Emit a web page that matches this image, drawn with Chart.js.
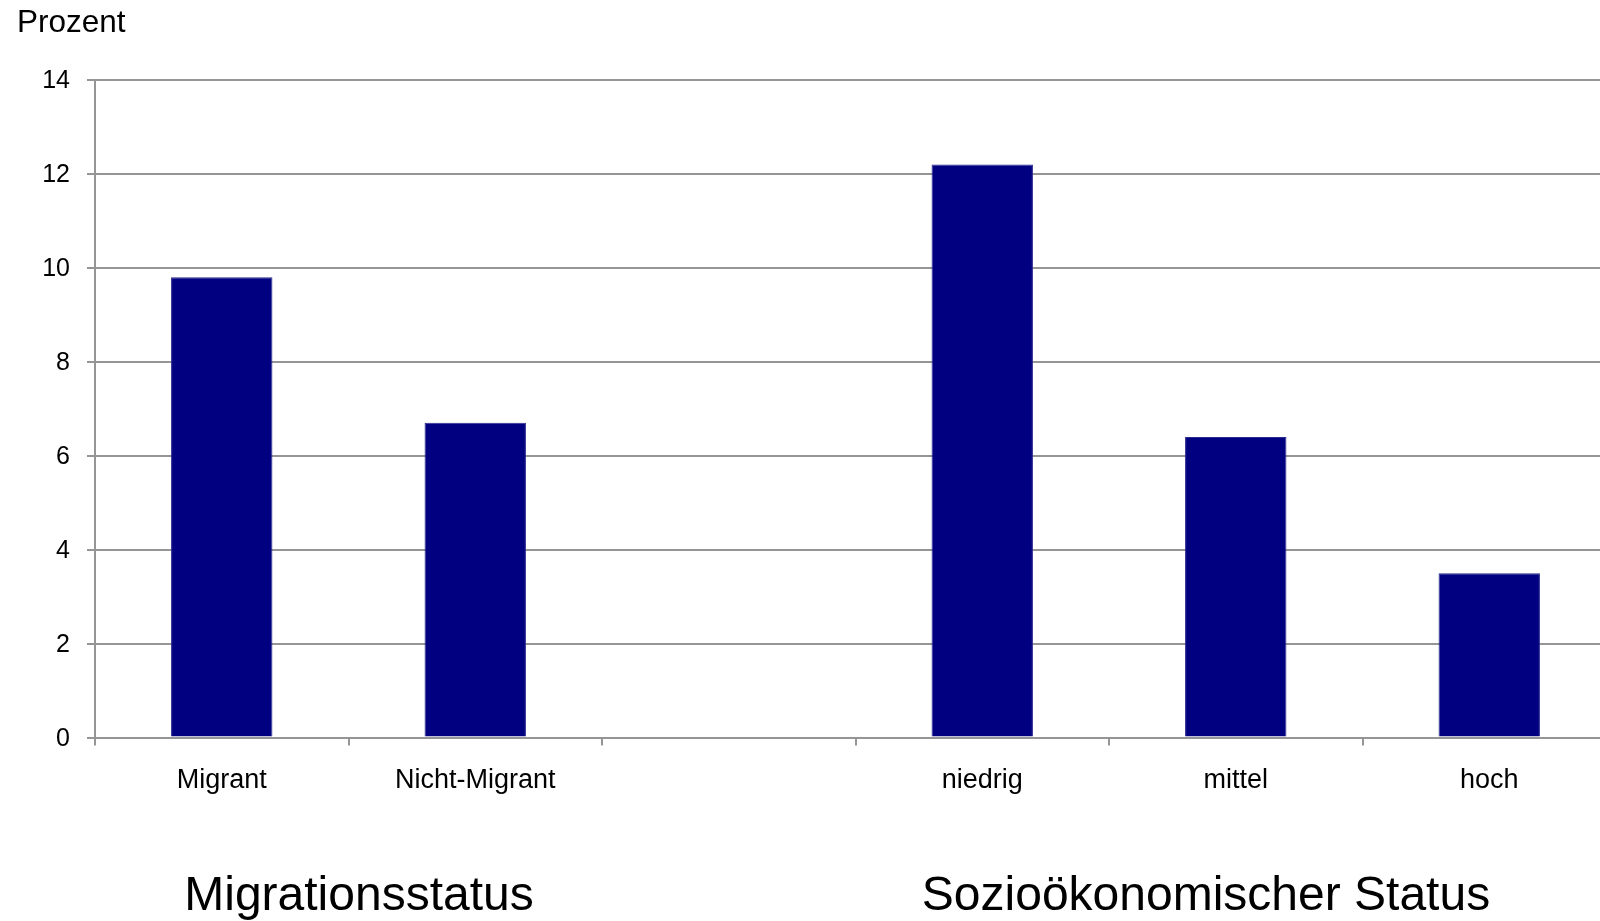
<!DOCTYPE html>
<html lang="de">
<head>
<meta charset="utf-8">
<title>Prozent nach Migrationsstatus und sozioökonomischem Status</title>
<script src="https://cdn.jsdelivr.net/npm/chart.js@4/dist/chart.umd.min.js"></script>
<style>
  html, body { margin: 0; padding: 0; background: #fff; overflow: hidden; }
  #wrap { position: relative; width: 1616px; height: 921px; }
</style>
</head>
<body>
<div id="wrap"><canvas id="chart"></canvas></div>
<script>
// Categories (the empty slot separates the two groups)
const categories = ['Migrant', 'Nicht-Migrant', '', 'niedrig', 'mittel', 'hoch'];
const values = [9.8, 6.7, null, 12.2, 6.4, 3.5];
const yTicks = [0, 2, 4, 6, 8, 10, 12, 14];
const groupTitles = ['Migrationsstatus', 'Sozioökonomischer Status'];

const FONT = '"Liberation Sans", Arial, sans-serif';
const GRID = '#959595';

// Extra text: unit label at top left, group titles below the axis
const textPlugin = {
  id: 'extraText',
  afterDraw(chart) {
    const ctx = chart.ctx;
    ctx.save();
    ctx.fillStyle = '#000';
    ctx.textBaseline = 'alphabetic';
    ctx.textAlign = 'left';
    ctx.font = '31.5px ' + FONT;
    ctx.fillText('Prozent', 17, 32);
    ctx.font = '48px ' + FONT;
    ctx.textAlign = 'center';
    ctx.fillText(groupTitles[0], 359, 910);
    ctx.fillText(groupTitles[1], 1206, 910);
    ctx.restore();
  }
};

new Chart(document.getElementById('chart'), {
  type: 'bar',
  data: {
    labels: categories,
    datasets: [{
      data: values,
      backgroundColor: '#000080',
      borderColor: '#2a2a8f',
      borderWidth: 1,
      barPercentage: 0.8,
      categoryPercentage: 0.5
    }]
  },
  options: {
    responsive: true,
    maintainAspectRatio: false,
    animation: false,
    layout: { padding: { top: 80, left: 0, right: 0, bottom: 0 } },
    plugins: {
      legend: { display: false },
      tooltip: { enabled: false }
    },
    scales: {
      x: {
        afterFit(scale) { scale.height = 183.5; },
        grid: {
          offset: true,
          drawOnChartArea: false,
          drawTicks: true,
          tickLength: 8,
          color: GRID,
          lineWidth: 2
        },
        border: { color: GRID, width: 2 },
        ticks: {
          color: '#000',
          font: { family: FONT, size: 27 },
          padding: 19,
          autoSkip: false,
          maxRotation: 0
        }
      },
      y: {
        min: 0,
        max: 14,
        afterFit(scale) { scale.width = 95; },
        afterBuildTicks(scale) { scale.ticks = yTicks.map(v => ({ value: v })); },
        grid: {
          color: GRID,
          lineWidth: 2,
          drawTicks: true,
          tickLength: 8
        },
        border: { color: GRID, width: 2 },
        ticks: {
          color: '#000',
          font: { family: FONT, size: 25 },
          padding: 17,
          labelOffset: 1.5
        }
      }
    }
  },
  plugins: [textPlugin]
});
</script>
</body>
</html>
